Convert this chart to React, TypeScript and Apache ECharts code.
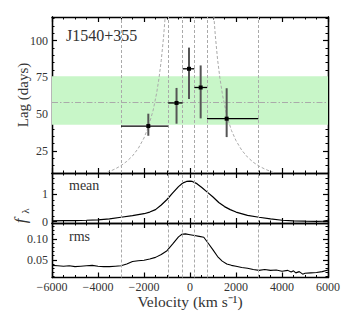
import React, { useEffect, useRef } from "react";
import * as echarts from "echarts";

// ---- data ----
const binLo = [-3000, -950, -320, 190, 740];
const binHi = [-950, -320, 190, 740, 2970];
const lagVel = [-1812, -585, -43, 464, 1594];
const lagVal = [41.9, 57.6, 80.8, 68.1, 46.9];
const lagLow = [35.3, 43.5, 60.3, 47.1, 34.4];
const lagHigh = [50.3, 67.8, 95.2, 83.1, 67.6];
const meanLag = 58.0;
const bandLow = 42.8;
const bandHigh = 75.7;
const edgeVel = [-3000, -950, -320, 190, 740, 2970];

const curveLeftVel = [-3600, -3500, -3250, -3000, -2750, -2500, -2250, -2000, -1800, -1600, -1450, -1350, -1250, -1150, -1080, -1060];
const curveLeftLag = [10.4, 11.0, 12.8, 15.0, 17.9, 21.6, 26.7, 33.8, 41.8, 52.8, 64.3, 74.2, 86.6, 102.3, 116, 120];
const curveRightVel = [1020, 1040, 1100, 1200, 1300, 1420, 1600, 1800, 2000, 2250, 2500, 2750, 3000, 3250, 3500, 3650];
const curveRightLag = [120, 116, 103.5, 87, 74.5, 62.5, 49, 39, 32, 25.5, 20.8, 17.3, 14.7, 12.7, 11.1, 10.3];

const meanVel = [-6000, -5500, -5000, -4500, -4000, -3500, -3000, -2500, -2000, -1750, -1500, -1250, -1000, -750, -500, -300, -150, 0, 100, 300, 500, 750, 1000, 1250, 1500, 1750, 2000, 2500, 3000, 3500, 4000, 4500, 5000, 5500, 5800, 6000];
const meanFlux = [0.03, 0.035, 0.04, 0.05, 0.065, 0.1, 0.16, 0.22, 0.29, 0.35, 0.44, 0.61, 0.81, 1.05, 1.28, 1.42, 1.47, 1.48, 1.47, 1.39, 1.26, 1.08, 0.9, 0.7, 0.55, 0.44, 0.35, 0.23, 0.16, 0.1, 0.05, 0.03, 0.015, 0.01, 0.02, 0.05];

const rmsVel = [-6000, -5750, -5500, -5250, -5000, -4750, -4500, -4250, -4000, -3750, -3500, -3250, -3000, -2750, -2500, -2250, -2000, -1750, -1500, -1250, -1000, -750, -500, -350, -200, 0, 200, 400, 600, 800, 1000, 1200, 1400, 1600, 1800, 2000, 2250, 2500, 2750, 3000, 3250, 3500, 3750, 4000, 4250, 4400, 4500, 4600, 4750, 4900, 5000, 5250, 5500, 5750, 6000];
const rmsFlux = [0.037, 0.036, 0.035, 0.036, 0.034, 0.035, 0.036, 0.037, 0.035, 0.034, 0.034, 0.035, 0.036, 0.04, 0.046, 0.048, 0.049, 0.052, 0.056, 0.063, 0.072, 0.088, 0.105, 0.111, 0.112, 0.11, 0.108, 0.106, 0.104, 0.089, 0.074, 0.058, 0.047, 0.04, 0.037, 0.035, 0.032, 0.03, 0.027, 0.025, 0.027, 0.025, 0.026, 0.023, 0.025, 0.021, 0.024, 0.019, 0.022, 0.016, 0.018, 0.019, 0.02, 0.022, 0.026];

const lagMajor = [25, 50, 75, 100];
const lagMinor = [10, 15, 20, 30, 35, 40, 45, 55, 60, 65, 70, 80, 85, 90, 95, 105, 110, 115];
const meanMajor = [0, 1];
const meanMinor = [0.2, 0.4, 0.6, 0.8, 1.2, 1.4, 1.6];
const rmsMajor = [0.05, 0.1];
const rmsMinor = [0.01, 0.02, 0.03, 0.04, 0.06, 0.07, 0.08, 0.09, 0.11, 0.12, 0.13];

const FONT = "Liberation Serif";
const TXT = "#333";
const AXIS = { color: "#000", width: 1.3 };

function xAx(grid: number, pos: string, labels: boolean) {
  return {
    type: "value", gridIndex: grid, position: pos, min: -6000, max: 6000, interval: 2000,
    axisLine: { show: true, onZero: false, lineStyle: AXIS },
    axisTick: { show: true, inside: true, length: 5, lineStyle: { color: "#000", width: 1.2 } },
    minorTick: { show: true, splitNumber: 4, length: 2.5, lineStyle: { color: "#000", width: 1 } },
    splitLine: { show: false }, minorSplitLine: { show: false },
    axisLabel: {
      show: labels, margin: 3, fontFamily: FONT, fontSize: 12, color: TXT,
      formatter: (v: number) => (v < 0 ? "\u2212" + Math.abs(v) : String(v)),
    },
  };
}

function yAx(grid: number, pos: string, min: number, max: number, values: number[], len: number, labels: boolean, fmt: (v: number) => string) {
  return {
    type: "value", gridIndex: grid, position: pos, min, max,
    axisLine: { show: true, onZero: false, lineStyle: AXIS },
    axisTick: { show: true, inside: true, length: len, customValues: values, lineStyle: { color: "#000", width: len > 3 ? 1.2 : 1 } },
    axisLabel: { show: labels, customValues: values, formatter: fmt, margin: 4, fontFamily: FONT, fontSize: 12, color: TXT },
    splitLine: { show: false },
  };
}

function yGroup(grid: number, min: number, max: number, major: number[], minor: number[], fmt: (v: number) => string) {
  return [
    yAx(grid, "left", min, max, major, 5, true, fmt),
    yAx(grid, "left", min, max, minor, 2.5, false, fmt),
    yAx(grid, "right", min, max, major, 5, false, fmt),
    yAx(grid, "right", min, max, minor, 2.5, false, fmt),
  ];
}

const vLines = {
  silent: true, symbol: ["none", "none"], label: { show: false },
  lineStyle: { color: "#aaa", width: 1, type: [3, 2] },
  data: edgeVel.map((v) => ({ xAxis: v })),
};

export default function App() {
  const ref = useRef<HTMLDivElement>(null);
  useEffect(() => {
    document.body.style.margin = "0";
    const chart = echarts.init(ref.current!, null, { renderer: "svg" });
    const errData = lagVel.map((v, i) => [v, lagVal[i], binLo[i], binHi[i], lagLow[i], lagHigh[i]]);
    const txt = (text: string, x: number, y: number, size: number, extra: any = {}) => ({
      type: "text", x, y, rotation: extra.rotation || 0,
      style: { text, fontFamily: FONT, fontSize: size, fontStyle: extra.italic ? "italic" : "normal", fill: TXT, textAlign: extra.align || "left", textVerticalAlign: "middle" },
    });
    const option: any = {
      animation: false,
      grid: [
        { left: 52, top: 17, width: 276, height: 156 },
        { left: 52, top: 173, width: 276, height: 50 },
        { left: 52, top: 223, width: 276, height: 54.5 },
      ],
      xAxis: [
        xAx(0, "bottom", false), xAx(0, "top", false),
        xAx(1, "bottom", false), xAx(1, "top", false),
        xAx(2, "bottom", true), xAx(2, "top", false),
      ],
      yAxis: [
        ...yGroup(0, 10, 116, lagMajor, lagMinor, (v) => String(v)),
        ...yGroup(1, -0.05, 1.78, meanMajor, meanMinor, (v) => String(v)),
        ...yGroup(2, 0.008, 0.138, rmsMajor, rmsMinor, (v) => v.toFixed(2)),
      ],
      series: [
        {
          type: "line", xAxisIndex: 0, yAxisIndex: 0, data: [], z: 1, silent: true,
          markArea: { silent: true, itemStyle: { color: "#c8f6c8" }, data: [[{ yAxis: bandLow }, { yAxis: bandHigh }]] },
        },
        {
          type: "line", xAxisIndex: 0, yAxisIndex: 0, z: 2, symbol: "none", silent: true,
          data: curveLeftVel.map((v, i) => [v, curveLeftLag[i]]),
          lineStyle: { color: "#aaa", width: 1, type: [3, 2] },
          markLine: {
            ...vLines,
            data: [
              ...vLines.data,
              { yAxis: meanLag, lineStyle: { color: "#aaa", width: 1, type: [6, 2, 1.5, 2] } },
            ],
          },
        },
        {
          type: "line", xAxisIndex: 0, yAxisIndex: 0, z: 2, symbol: "none", silent: true,
          data: curveRightVel.map((v, i) => [v, curveRightLag[i]]),
          lineStyle: { color: "#aaa", width: 1, type: [3, 2] },
        },
        {
          type: "custom", xAxisIndex: 0, yAxisIndex: 0, z: 5, data: errData,
          renderItem: (params: any, api: any) => {
            const x = api.value(0), y = api.value(1);
            const c = api.coord([x, y]);
            const l = api.coord([api.value(2), y]);
            const r = api.coord([api.value(3), y]);
            const lo = api.coord([x, api.value(4)]);
            const hi = api.coord([x, api.value(5)]);
            return {
              type: "group",
              children: [
                { type: "line", shape: { x1: lo[0], y1: lo[1], x2: hi[0], y2: hi[1] }, style: { stroke: "#555", lineWidth: 2 } },
                { type: "line", shape: { x1: l[0], y1: l[1], x2: r[0], y2: r[1] }, style: { stroke: "#000", lineWidth: 1.3 } },
                { type: "rect", shape: { x: c[0] - 2, y: c[1] - 2, width: 4, height: 4 }, style: { fill: "#000" } },
              ],
            };
          },
        },
        {
          type: "line", xAxisIndex: 2, yAxisIndex: 4, z: 3, symbol: "none", silent: true,
          data: meanVel.map((v, i) => [v, meanFlux[i]]),
          lineStyle: { color: "#000", width: 1.2 },
          markLine: vLines,
        },
        {
          type: "line", xAxisIndex: 4, yAxisIndex: 8, z: 3, symbol: "none", silent: true,
          data: rmsVel.map((v, i) => [v, rmsFlux[i]]),
          lineStyle: { color: "#000", width: 1.1 },
          markLine: vLines,
        },
      ],
      graphic: [
        txt("J1540+355", 66, 35, 16),
        txt("mean", 69, 185, 14),
        txt("rms", 69, 236, 14),
        txt("Lag (days)", 23, 95, 15, { rotation: Math.PI / 2, align: "center" }),
        txt("f", 20, 221, 17, { rotation: Math.PI / 2, align: "center", italic: true }),
        txt("λ", 25, 211, 11, { rotation: Math.PI / 2, align: "center" }),
        txt("Velocity (km s\u207B\u00B9)", 190, 301, 15.5, { align: "center" }),
      ],
    };
    chart.setOption(option);
    return () => chart.dispose();
  }, []);
  return <div ref={ref} style={{ width: 346, height: 311 }} />;
}
